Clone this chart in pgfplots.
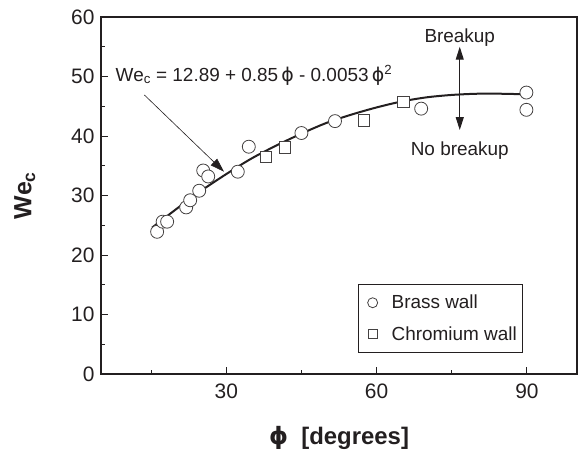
\documentclass[border=0pt]{standalone}
\usepackage{fontspec}
\setmainfont{Liberation Sans}
\newfontfamily\dv{DejaVu Sans}
\usepackage{pgfplots}
\pgfplotsset{compat=1.18}
\usetikzlibrary{arrows.meta}
\definecolor{ink}{HTML}{231F20}
\newcommand{\ph}{{\dv ϕ}}
\pgfplotsset{myleg/.style={legend image code/.code={\path (-10bp,0bp); \draw[##1] plot coordinates {(0cm,0cm)};}}}

\begin{document}
\begin{tikzpicture}
\useasboundingbox (-101bp,-81bp) rectangle (478bp,374bp);
\begin{axis}[
  at={(0,0)}, anchor=south west,
  scale only axis, width=476bp, height=357bp,
  xmin=5, xmax=100, ymin=0, ymax=60,
  xtick={30,60,90}, ytick={0,10,...,60},
  minor xtick={15,45,75}, minor ytick={5,15,...,55},
  tick pos=left, tick align=inside,
  major tick length=7bp, minor tick length=4bp,
  axis line style={line width=1.2bp, ink},
  every tick/.style={ink, line width=0.8bp},
  tick label style={font=\fontsize{21}{24}\selectfont, text=ink},
  /pgf/number format/assume math mode=true,
  xticklabel style={yshift=-6bp},
  yticklabel style={xshift=-3bp},
  xlabel={\bfseries {\dv\bfseries ϕ}\ \ [degrees]},
  ylabel={\bfseries We\textsubscript{c}},
  xlabel style={at={(axis description cs:0.5,-0.179)}, anchor=center, font=\fontsize{24}{28}\selectfont, text=ink},
  ylabel style={at={(axis description cs:-0.16,0.5)}, anchor=center, font=\fontsize{25}{28}\selectfont, text=ink},
  legend style={at={(axis description cs:0.887,0.059)}, anchor=south east,
    draw=ink, line width=0.8bp, font=\fontsize{19}{22}\selectfont, text=ink,
    row sep=12bp, inner xsep=4bp, inner ysep=9bp},
  legend cell align=left,
  clip=false,
]
% fitted curve
\addplot[ink, line width=2bp, smooth, forget plot] coordinates {
  (15.2,24.6) (20,27.7) (25,30.8) (30,33.6) (35,36.2) (40,38.4) (45,40.4)
  (50,42.2) (55,43.6) (60,44.8) (65,45.8) (70,46.5) (75,46.9) (80,47.1)
  (85,47.1) (90,47.0)
};
\addplot[only marks, mark=*, mark size=6.5bp,
  mark options={fill=white, draw=ink!85, line width=0.8bp},
  myleg, legend image post style={mark size=5bp}]
  coordinates {
  (16.2,23.9) (17.3,25.6) (18.2,25.6) (22.0,28.0) (22.8,29.2) (24.6,30.8)
  (25.4,34.2) (26.4,33.2) (32.3,34.0) (34.5,38.2) (45.0,40.5) (51.7,42.5)
  (68.9,44.6) (89.9,47.3) (89.9,44.4)
};
\addlegendentry{\hspace{12bp}Brass wall}
\addplot[only marks, mark=square*, mark size=5.8bp,
  mark options={fill=white, draw=ink!85, line width=0.8bp},
  myleg, legend image post style={mark size=4.5bp}]
  coordinates {
  (37.9,36.5) (41.7,38.1) (57.5,42.6) (65.3,45.7)
};
\addlegendentry{\hspace{12bp}Chromium wall}

\node[anchor=west, font=\fontsize{19}{22}\selectfont, text=ink, inner sep=0]
  at (axis cs:7.9,50.2) {We\textsubscript{c} = 12.89 + 0.85\,\ph\ - 0.0053\,\ph\textsuperscript{2}};
\draw[ink, line width=0.6bp, -{Triangle[length=14bp,width=9bp]}]
  (axis cs:13.65,46.9) -- (axis cs:29.55,34.0);
\draw[ink, line width=1bp, {Triangle[length=13bp,width=8bp]}-{Triangle[length=13bp,width=8bp]}]
  (axis cs:76.6,55.0) -- (axis cs:76.6,41.0);
\node[font=\fontsize{19}{22}\selectfont, text=ink] at (axis cs:76.6,56.6) {Breakup};
\node[font=\fontsize{19}{22}\selectfont, text=ink] at (axis cs:76.6,37.5) {No breakup};
\end{axis}
\end{tikzpicture}
\end{document}
